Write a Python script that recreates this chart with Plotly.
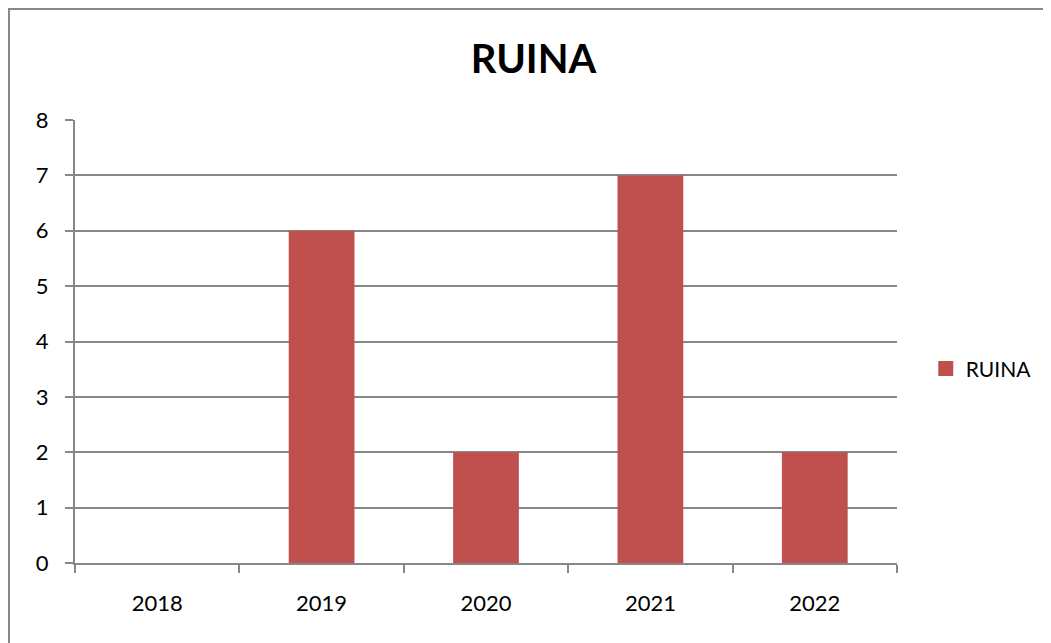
import plotly.graph_objects as go

# ----------------------------------------------------------------------------------------------------------------------
# Data
# ----------------------------------------------------------------------------------------------------------------------
years = ["2018", "2019", "2020", "2021", "2022"]
ruina = [0, 6, 2, 7, 2]
y_ticks = [0, 1, 2, 3, 4, 5, 6, 7, 8]

# ----------------------------------------------------------------------------------------------------------------------
# Figure
# ----------------------------------------------------------------------------------------------------------------------
font_family = "Lato, 'Open Sans', sans-serif"
grey = "#878787"
bar_color = "#C0504D"

# plot area in figure pixels (the page adds an 8px body margin)
left, right, top, bottom = 67, 162, 112, 88
plot_w = 1051 - left - right
plot_h = 643 - top - bottom

fig = go.Figure()
fig.add_trace(go.Bar(x=years, y=ruina, name="RUINA", marker_color=bar_color,
                     marker_line_width=0, width=0.4, showlegend=False))
# legend entry with a bigger square swatch
fig.add_trace(go.Scatter(x=[None], y=[None], name="RUINA", mode="markers",
                         marker=dict(symbol="square", size=15, color=bar_color), showlegend=True))

fig.update_layout(
    width=1051, height=643,
    margin=dict(l=left, r=right, t=top, b=bottom),
    paper_bgcolor="white", plot_bgcolor="white",
    font=dict(family=font_family, size=22, color="black"),
    title=dict(text="<b>RUINA</b>", x=0.5, xanchor="center", y=0.921, yanchor="middle",
               font=dict(size=40, family=font_family)),
    legend=dict(x=1.035, xanchor="left", y=0.438, yanchor="middle", font=dict(size=21),
                itemwidth=30, bgcolor="rgba(0,0,0,0)"),
    bargap=0.6,
)

# Axes
fig.update_xaxes(showline=True, linecolor=grey, linewidth=2, tickson="boundaries",
                 ticks="outside", ticklen=8, tickcolor=grey, tickwidth=2, showgrid=False,
                 tickfont=dict(size=22), ticklabelstandoff=20)
fig.update_yaxes(range=[0, 8], tickvals=y_ticks, showline=True, linecolor=grey, linewidth=2,
                 ticks="outside", ticklen=8, tickcolor=grey, tickwidth=2,
                 showgrid=True, gridcolor=grey, gridwidth=2, zeroline=False,
                 tickfont=dict(size=22), ticklabelstandoff=12)

# Outer chart border
fig.add_shape(type="rect", xref="paper", yref="paper",
              x0=-(left - 1) / plot_w, x1=(1051 - left + 20) / plot_w,
              y0=-(bottom + 20) / plot_h, y1=(plot_h + top - 1) / plot_h,
              line=dict(color=grey, width=2), layer="below")

fig.write_html("out.html")
